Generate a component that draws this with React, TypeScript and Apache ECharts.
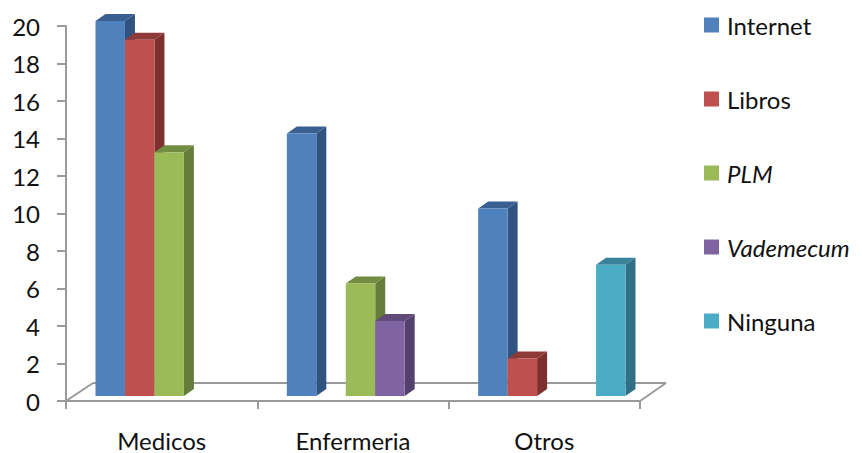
import React, { useEffect, useRef } from "react";
import * as echarts from "echarts";

const categories = ["Medicos", "Enfermeria", "Otros"];
const internet = [20, 14, 10];
const libros = [19, null, 2];
const plm = [13, 6, null];
const vademecum = [null, 4, null];
const ninguna = [null, null, 7];
const yTicks = { min: 0, max: 20, interval: 2 };

const FONT = "Lato, 'Open Sans', sans-serif";
const TEXT = "#111111";
const AXIS = "#9a9a9a";

// Per-series colours: front face, top face, side face.
const palette = [
  ["#4F81BD", "#3A6091", "#30547F"],
  ["#C0504D", "#8E3A38", "#7D302E"],
  ["#9BBB59", "#728C41", "#667C3A"],
  ["#8064A2", "#5F4A7A", "#54406C"],
  ["#4BACC6", "#37839A", "#306F85"],
];

const DEPTH_X = 10;
const DEPTH_Y = 7;
const FLOOR_LIFT = 5;
const CLUSTER_SHIFT = 7.5;
const SLOT_SHARE = 0.154;

const seriesDefs = [
  { name: "Internet", values: internet },
  { name: "Libros", values: libros },
  { name: "PLM", values: plm },
  { name: "Vademecum", values: vademecum },
  { name: "Ninguna", values: ninguna },
];

// Draws one box-shaped column: side, top and front faces.
function boxRenderer(seriesIndex: number) {
  return (_params: any, api: any) => {
    const cat = api.value(0);
    const val = api.value(1);
    const base = api.coord([cat, 0]);
    const top = api.coord([cat, val]);
    const slot = api.size([1, 0])[0] * SLOT_SHARE;
    const x0 = base[0] + CLUSTER_SHIFT + (seriesIndex - 2.5) * slot;
    const x1 = x0 + slot;
    const yb = base[1] - FLOOR_LIFT;
    const yt = top[1] - FLOOR_LIFT;
    const [front, topFace, side] = palette[seriesIndex];
    return {
      type: "group",
      children: [
        {
          type: "polygon",
          shape: {
            points: [
              [x1, yt],
              [x1 + DEPTH_X, yt - DEPTH_Y],
              [x1 + DEPTH_X, yb - DEPTH_Y],
              [x1, yb],
            ],
          },
          style: { fill: side },
        },
        {
          type: "polygon",
          shape: {
            points: [
              [x0, yt],
              [x0 + DEPTH_X, yt - DEPTH_Y],
              [x1 + DEPTH_X, yt - DEPTH_Y],
              [x1, yt],
            ],
          },
          style: { fill: topFace },
        },
        {
          type: "rect",
          shape: { x: x0, y: yt, width: slot, height: yb - yt },
          style: { fill: front },
        },
      ],
    };
  };
}

const floorLine = (x1: number, y1: number, x2: number, y2: number) => ({
  type: "line",
  z: 1,
  shape: { x1, y1, x2, y2 },
  style: { stroke: AXIS, lineWidth: 2 },
});

export default function App() {
  const ref = useRef<HTMLDivElement>(null);

  useEffect(() => {
    const chart = echarts.init(ref.current!, undefined, { renderer: "svg" });
    chart.setOption({
      animation: false,
      backgroundColor: "#ffffff",
      grid: { left: 66, top: 26, width: 574, height: 375, outerBoundsMode: "none" },
      legend: {
        orient: "vertical",
        left: 699,
        top: 8,
        icon: "rect",
        itemWidth: 15,
        itemHeight: 15,
        itemGap: 50,
        selectedMode: false,
        textStyle: { fontFamily: FONT, fontSize: 24, color: TEXT, padding: [0, 0, 0, 3] },
        data: [
          { name: "Internet" },
          { name: "Libros" },
          { name: "PLM", textStyle: { fontStyle: "italic" } },
          { name: "Vademecum", textStyle: { fontStyle: "italic" } },
          { name: "Ninguna" },
        ],
      },
      xAxis: {
        type: "category",
        data: categories,
        axisLine: { show: true, lineStyle: { color: AXIS, width: 2 } },
        axisTick: {
          show: true,
          alignWithLabel: false,
          interval: 0,
          length: 8,
          lineStyle: { color: AXIS, width: 2 },
        },
        axisLabel: { fontFamily: FONT, fontSize: 24, lineHeight: 18, color: TEXT, margin: 30 },
      },
      yAxis: {
        type: "value",
        ...yTicks,
        splitLine: { show: false },
        axisLine: { show: true, lineStyle: { color: AXIS, width: 2 } },
        axisTick: { show: true, length: 9, lineStyle: { color: AXIS, width: 2 } },
        axisLabel: { fontFamily: FONT, fontSize: 24, color: TEXT, margin: 26 },
      },
      // Floor of the box: back edge and the two receding side edges.
      graphic: [
        floorLine(66, 401, 93, 383),
        floorLine(93, 383, 666, 383),
        floorLine(640, 401, 666, 383),
      ],
      series: seriesDefs.map((s, i) => ({
        type: "custom",
        name: s.name,
        z: 5 + i,
        itemStyle: { color: palette[i][0] },
        encode: { x: 0, y: 1 },
        renderItem: boxRenderer(i),
        data: categories
          .map((c, k) => [c, s.values[k]])
          .filter((d) => d[1] !== null),
      })),
    });
    return () => chart.dispose();
  }, []);

  return (
    <div
      ref={ref}
      style={{ position: "absolute", left: 0, top: 0, width: 862, height: 453 }}
    />
  );
}
